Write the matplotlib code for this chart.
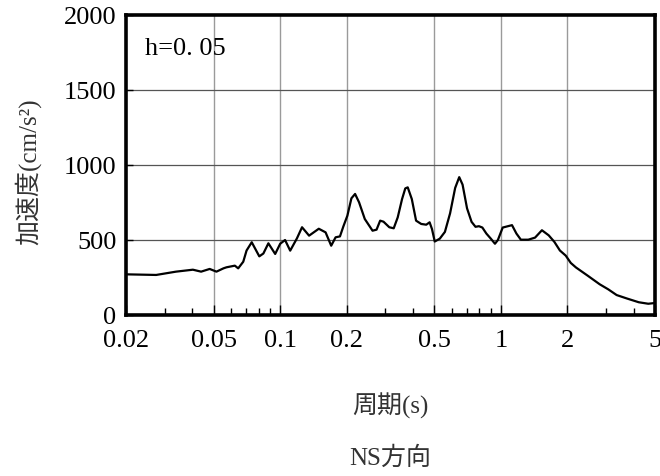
import matplotlib
matplotlib.use('Agg')
import matplotlib.pyplot as plt
from matplotlib.ticker import FixedLocator, NullFormatter

# periods (s) and spectral acceleration (cm/s^2)
period = [0.0202, 0.0274, 0.0337, 0.0402, 0.0438, 0.0479, 0.0514, 0.0553, 0.0571,
          0.0623, 0.0645, 0.068, 0.0704, 0.0743, 0.0804, 0.0839, 0.0884, 0.0949,
          0.1, 0.1052, 0.111, 0.1191, 0.1256, 0.1352, 0.1496, 0.1606, 0.1703,
          0.1783, 0.1866, 0.1934, 0.2016, 0.2103, 0.2185, 0.2278, 0.2418, 0.2622,
          0.2734, 0.2839, 0.294, 0.3123, 0.327, 0.341, 0.3568, 0.369, 0.3785,
          0.395, 0.413, 0.4357, 0.4593, 0.4756, 0.4876, 0.5018, 0.529, 0.558,
          0.589, 0.621, 0.648, 0.671, 0.703, 0.737, 0.768, 0.796, 0.825, 0.86,
          0.901, 0.941, 0.97, 1.02, 1.124, 1.177, 1.233, 1.332, 1.43, 1.536,
          1.649, 1.75, 1.853, 1.969, 2.076, 2.191, 2.483, 2.806, 3.07, 3.35,
          3.73, 4.22, 4.66, 5.0]
accel = [271, 267, 289, 302, 289, 307, 289, 311, 318,
         329, 311, 355, 430, 485, 391, 410, 478, 407,
         475, 500, 429, 511, 585, 529, 575, 551, 462,
         518, 524, 591, 662, 778, 807, 751, 640, 562,
         569, 629, 622, 585, 578, 651, 773, 844, 851,
         773, 629, 607, 602, 618, 573, 490, 509, 554,
         678, 847, 919, 869, 711, 621, 588, 592, 583, 543,
         509, 475, 500, 583, 599, 543, 502, 502, 516, 565,
         531, 487, 430, 396, 347, 317, 261, 205, 171, 133,
         110, 85, 75, 80]

xticks = [0.02, 0.05, 0.1, 0.2, 0.5, 1, 2, 5]
xtick_labels = ['0.02', '0.05', '0.1', '0.2', '0.5', '1', '2', '5']
yticks = [0, 500, 1000, 1500, 2000]

plt.rcParams['font.family'] = ['Liberation Serif', 'Noto Sans CJK JP', 'DejaVu Sans']

fig = plt.figure(figsize=(6.6, 4.77), dpi=100)
ax = fig.add_axes([126 / 660, 1 - 316 / 477, 529 / 660, 300 / 477])

ax.plot(period, accel, color='black', lw=1.6)

ax.set_xscale('log')
ax.set_xlim(0.02, 5)
ax.set_ylim(0, 2000)

minor = [0.03, 0.04, 0.06, 0.07, 0.08, 0.09, 0.3, 0.4, 0.6, 0.7, 0.8, 0.9, 3, 4]
ax.xaxis.set_major_locator(FixedLocator(xticks))
ax.xaxis.set_minor_locator(FixedLocator(minor))
ax.xaxis.set_minor_formatter(NullFormatter())
ax.set_xticks(xticks)
ax.set_xticklabels(xtick_labels)
ax.set_yticks(yticks)

for x in xticks[1:-1]:
    ax.axvline(x, color='#9a9a9a', lw=1.0, zorder=0)
for y in yticks[1:-1]:
    ax.axhline(y, color='#555555', lw=0.9, zorder=0)

ax.tick_params(axis='both', which='major', direction='in', length=7, width=1.0,
               labelsize=19, colors='black')
ax.tick_params(axis='x', which='major', pad=10)
ax.tick_params(axis='x', which='minor', direction='in', length=5, width=1.0)
ax.tick_params(axis='y', which='major', length=5, pad=7)
for s in ax.spines.values():
    s.set_linewidth(2.6)

ax.text(0.0245, 1740, 'h=0. 05', fontsize=19)

fig.text(28 / 660, 1 - 172 / 477, '加速度(cm/s²)', rotation=90, ha='center',
         va='center', fontsize=18, color='#333333')
fig.text(390 / 660, 1 - 406 / 477, '周期(s)', ha='center', va='center',
         fontsize=18, color='#333333')
fig.text(390 / 660, 1 - 458 / 477, 'NS方向', ha='center', va='center',
         fontsize=18, color='#333333')

fig.savefig('out.png', dpi=100)
